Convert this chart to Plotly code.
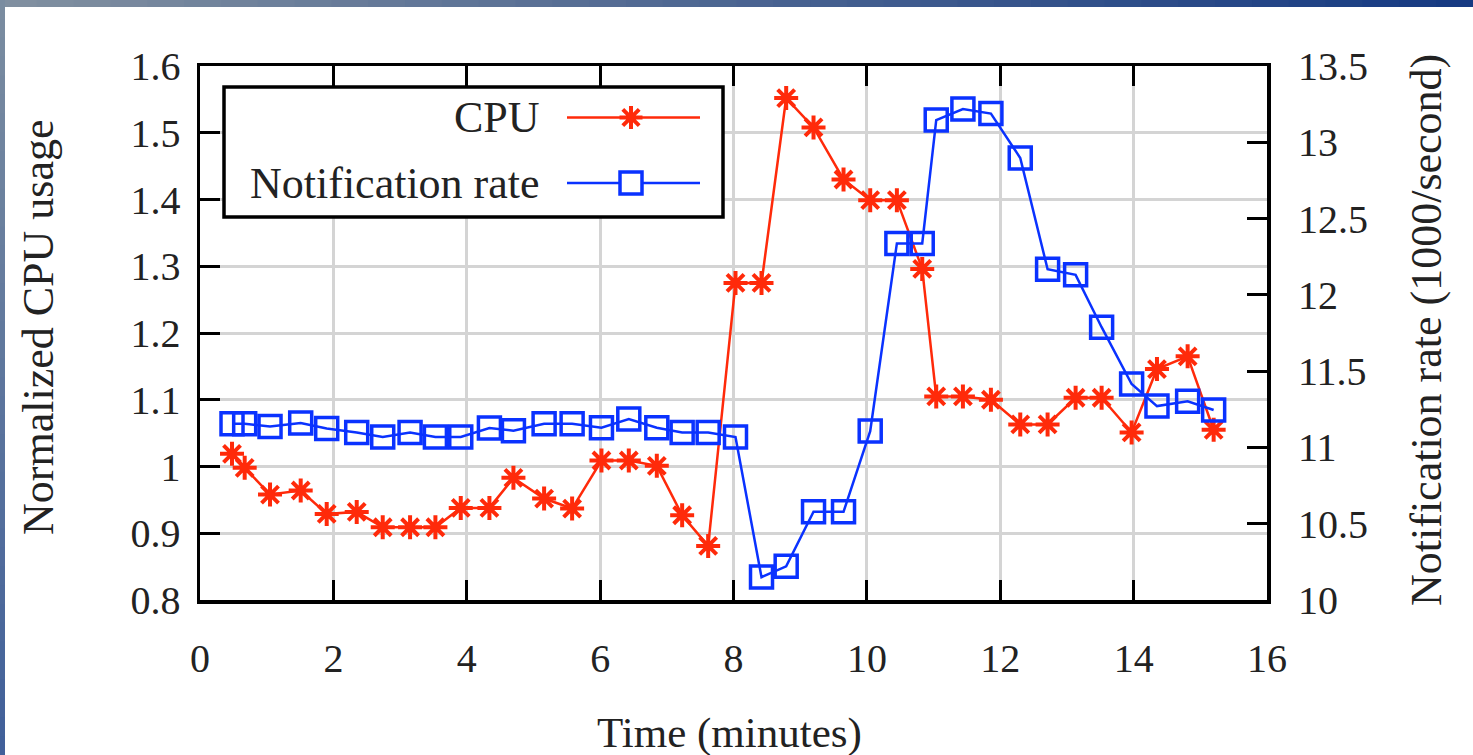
import plotly.graph_objects as go

# ---------------- data ----------------
time_min = [0.48, 0.67, 1.05, 1.51, 1.90, 2.35, 2.74, 3.15, 3.53, 3.91,
            4.34, 4.70, 5.16, 5.58, 6.02, 6.43, 6.85, 7.23, 7.62, 8.03,
            8.42, 8.79, 9.20, 9.65, 10.05, 10.45, 10.83, 11.04, 11.44, 11.86,
            12.30, 12.71, 13.13, 13.52, 13.97, 14.35, 14.81, 15.20]

cpu_usage = [1.019, 0.998, 0.958, 0.964, 0.929, 0.932, 0.909, 0.909, 0.909, 0.938,
             0.938, 0.983, 0.952, 0.937, 1.009, 1.009, 1.001, 0.927, 0.881, 1.275,
             1.275, 1.552, 1.508, 1.430, 1.399, 1.399, 1.296, 1.105, 1.105, 1.100,
             1.063, 1.063, 1.103, 1.103, 1.051, 1.146, 1.165, 1.055]

notif_rate = [11.155, 11.155, 11.137, 11.160, 11.124, 11.098, 11.068, 11.098, 11.068, 11.068,
              11.127, 11.110, 11.155, 11.155, 11.129, 11.186, 11.129, 11.098, 11.098, 11.068,
              10.150, 10.221, 10.578, 10.578, 11.107, 12.337, 12.337, 13.146, 13.218, 13.188,
              12.897, 12.168, 12.131, 11.788, 11.416, 11.271, 11.302, 11.245]

x_ticks = [0, 2, 4, 6, 8, 10, 12, 14, 16]
y_left_ticks = [0.8, 0.9, 1.0, 1.1, 1.2, 1.3, 1.4, 1.5, 1.6]
y_left_labels = ["0.8", "0.9", "1", "1.1", "1.2", "1.3", "1.4", "1.5", "1.6"]
y_right_ticks = [10, 10.5, 11, 11.5, 12, 12.5, 13, 13.5]
y_right_labels = ["10", "10.5", "11", "11.5", "12", "12.5", "13", "13.5"]

series_names = ["CPU", "Notification rate"]

# ---------------- styling ----------------
W, H = 1473, 755
ML, MR, MT, MB = 200, 206, 66, 155
PW = W - ML - MR
PH = H - MT - MB
FONT = "Liberation Serif"
TXT = "#222222"
RED = "#ff2a0a"
BLUE = "#0a32ff"


def px_x(px):
    return (px - ML) / PW


def px_y(py):
    return (H - MB - py) / PH


fig = go.Figure()

fig.add_trace(go.Scatter(
    x=time_min, y=cpu_usage, name=series_names[0], mode="lines+markers",
    line=dict(color=RED, width=2.5),
    marker=dict(symbol="asterisk-open", size=20, color=RED,
                line=dict(color=RED, width=4)),
    yaxis="y", showlegend=False))

fig.add_trace(go.Scatter(
    x=time_min, y=notif_rate, name=series_names[1], mode="lines+markers",
    line=dict(color=BLUE, width=2.5),
    marker=dict(symbol="square-open", size=22, color=BLUE,
                line=dict(color=BLUE, width=3.5)),
    yaxis="y2", showlegend=False))

axis_common = dict(
    ticks="inside", ticklen=20, tickwidth=3, tickcolor="black",
    showline=True, linewidth=3.5, linecolor="black",
    zeroline=False, tickfont=dict(family=FONT, size=40, color=TXT),
)

fig.update_layout(
    width=W, height=H,
    margin=dict(l=ML, r=MR, t=MT, b=MB, autoexpand=False),
    paper_bgcolor="white", plot_bgcolor="white",
    font=dict(family=FONT, color=TXT),
    xaxis=dict(range=[0, 16], tickvals=x_ticks, ticktext=[str(v) for v in x_ticks],
               mirror="ticks", showgrid=True, gridcolor="#d4d4d4", gridwidth=3,
               ticklabelstandoff=20, **axis_common),
    yaxis=dict(range=[0.8, 1.6], tickvals=y_left_ticks, ticktext=y_left_labels,
               mirror=True, showgrid=True, gridcolor="#d4d4d4", gridwidth=3,
               ticklabelstandoff=8, **axis_common),
    yaxis2=dict(range=[10, 13.5], tickvals=y_right_ticks, ticktext=y_right_labels,
                overlaying="y", side="right", showgrid=False,
                ticks="inside", ticklen=20, tickwidth=3, tickcolor="black",
                showline=False, zeroline=False, ticklabelstandoff=30,
                tickfont=dict(family=FONT, size=40, color=TXT)),
    showlegend=False,
)

# axis titles
fig.add_annotation(text="Time (minutes)", xref="paper", yref="paper",
                   x=px_x(729), y=px_y(733), xanchor="center", yanchor="middle",
                   showarrow=False, font=dict(family=FONT, size=43, color=TXT))
fig.add_annotation(text="Normalized CPU usage", xref="paper", yref="paper",
                   x=px_x(38), y=px_y(328), xanchor="center", yanchor="middle",
                   textangle=-90, showarrow=False,
                   font=dict(family=FONT, size=44, color=TXT))
fig.add_annotation(text="Notification rate (1000/second)", xref="paper", yref="paper",
                   x=px_x(1426), y=px_y(330), xanchor="center", yanchor="middle",
                   textangle=-90, showarrow=False,
                   font=dict(family=FONT, size=44, color=TXT))

# ---------------- custom legend (text left, sample right) ----------------
shapes = []
shapes.append(dict(type="rect", xref="paper", yref="paper",
                   x0=px_x(224), x1=px_x(723), y0=px_y(217), y1=px_y(87),
                   line=dict(color="black", width=3.5), fillcolor="white", layer="above"))
row_y = [117.5, 183]
row_col = [RED, BLUE]
for i in range(2):
    shapes.append(dict(type="line", xref="paper", yref="paper",
                       x0=px_x(567), x1=px_x(700), y0=px_y(row_y[i]), y1=px_y(row_y[i]),
                       line=dict(color=row_col[i], width=2.5), layer="above"))
    fig.add_annotation(text=series_names[i], xref="paper", yref="paper",
                       x=px_x(542), y=px_y(row_y[i]), xanchor="right", yanchor="middle",
                       showarrow=False, font=dict(family=FONT, size=44, color=TXT))
# asterisk sample
cx, cy, rc, rs = 631, row_y[0], 11.5, 8.2
ast_path = (f"M {px_x(cx)},{px_y(cy - rc)} L {px_x(cx)},{px_y(cy + rc)} "
            f"M {px_x(cx - rc)},{px_y(cy)} L {px_x(cx + rc)},{px_y(cy)} "
            f"M {px_x(cx - rs)},{px_y(cy - rs)} L {px_x(cx + rs)},{px_y(cy + rs)} "
            f"M {px_x(cx - rs)},{px_y(cy + rs)} L {px_x(cx + rs)},{px_y(cy - rs)}")
shapes.append(dict(type="path", xref="paper", yref="paper", path=ast_path,
                   line=dict(color=RED, width=4), layer="above"))
# square sample
sq = 11
shapes.append(dict(type="rect", xref="paper", yref="paper",
                   x0=px_x(cx - sq), x1=px_x(cx + sq),
                   y0=px_y(row_y[1] + sq), y1=px_y(row_y[1] - sq),
                   line=dict(color=BLUE, width=3.5), fillcolor="white", layer="above"))

# ---------------- decorative frame bands (top and left) ----------------
def lerp(c1, c2, t):
    return "rgb({},{},{})".format(*[int(round(a + (b - a) * t)) for a, b in zip(c1, c2)])

N = 40
top_l, top_r = (128, 143, 160), (22, 58, 130)
for k in range(N):
    x0p, x1p = W * k / N, W * (k + 1) / N + 1
    shapes.append(dict(type="rect", xref="paper", yref="paper",
                       x0=px_x(x0p), x1=px_x(x1p), y0=px_y(7), y1=px_y(0),
                       line=dict(width=0), fillcolor=lerp(top_l, top_r, k / (N - 1)),
                       layer="below"))
left_t, left_b = (122, 140, 160), (65, 96, 154)
for k in range(N):
    y0p, y1p = H * k / N, H * (k + 1) / N + 1
    shapes.append(dict(type="rect", xref="paper", yref="paper",
                       x0=px_x(0), x1=px_x(5), y0=px_y(y1p), y1=px_y(y0p),
                       line=dict(width=0), fillcolor=lerp(left_t, left_b, k / (N - 1)),
                       layer="below"))

fig.update_layout(shapes=shapes)

fig.write_html("out.html",
               config={"displayModeBar": False, "staticPlot": True},
               post_script="document.body.style.margin='0';document.body.style.overflow='hidden';")
